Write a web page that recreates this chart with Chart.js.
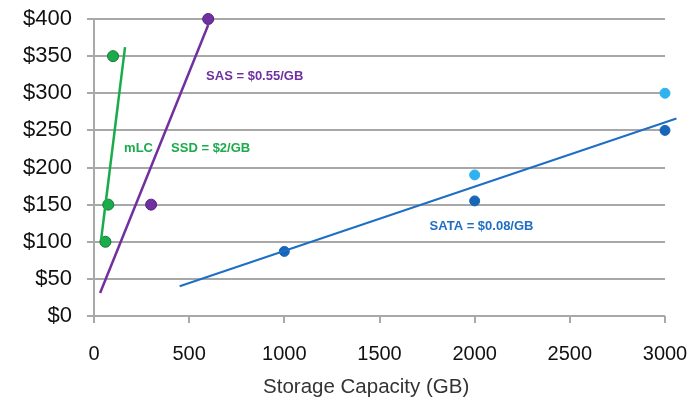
<!DOCTYPE html>
<html>
<head>
<meta charset="utf-8">
<script src="https://cdn.jsdelivr.net/npm/chart.js@4.4.1/dist/chart.umd.min.js"></script>
<style>
html,body{margin:0;padding:0;background:#fff;}
#wrap{width:694px;height:406px;position:relative;}
</style>
</head>
<body>
<div id="wrap"><canvas id="c" width="694" height="406"></canvas></div>
<script>
// Data (x = capacity in GB, y = price in $)
const xTicks = [0, 500, 1000, 1500, 2000, 2500, 3000];
const yTicks = [0, 50, 100, 150, 200, 250, 300, 350, 400];
const xTitle = 'Storage Capacity (GB)';

const ssdX = [60, 75, 100];
const ssdY = [100, 150, 350];
const ssdTrendX = [37, 163];
const ssdTrendY = [102, 362];

const sasX = [300, 600];
const sasY = [150, 400];
const sasTrendX = [32, 600];
const sasTrendY = [31, 392];

const sataX = [1000, 2000, 3000];
const sataY = [87, 155, 250];
const sataHiX = [2000, 3000];
const sataHiY = [190, 300];
const sataTrendX = [450, 3060];
const sataTrendY = [40, 266];

const labels = [
  {text: 'SAS = $0.55/GB', x: 589, y: 323, color: '#7030a0'},
  {text: 'mLC', x: 158, y: 226, color: '#1aab4a'},
  {text: 'SSD = $2/GB', x: 405, y: 226, color: '#1aab4a'},
  {text: 'SATA = $0.08/GB', x: 1763, y: 121, color: '#1f6ec5'}
];

const pts = (xs, ys) => xs.map((x, i) => ({x: x, y: ys[i]}));

const GREEN = '#1aab4a', PURPLE = '#7030a0', BLUE = '#1f6ec5', DBLUE = '#1766b8', LBLUE = '#2fb2ee';
const GRID = '#a8a8a8';
const FAM = '"Liberation Sans", Arial, sans-serif';

const annot = {
  id: 'annot',
  afterDatasetsDraw(chart) {
    const ctx = chart.ctx, xs = chart.scales.x, ys = chart.scales.y;
    ctx.save();
    ctx.font = 'bold 13px ' + FAM;
    ctx.textAlign = 'left';
    ctx.textBaseline = 'middle';
    labels.forEach(l => {
      ctx.fillStyle = l.color;
      ctx.fillText(l.text, xs.getPixelForValue(l.x), ys.getPixelForValue(l.y));
    });
    // axis title, centred slightly left of the plot centre as in the original
    ctx.font = '20.5px ' + FAM;
    ctx.fillStyle = '#333';
    ctx.textAlign = 'center';
    ctx.fillText(xTitle, xs.getPixelForValue(1430), xs.bottom - 19);
    ctx.restore();
  }
};

new Chart(document.getElementById('c'), {
  type: 'scatter',
  data: {
    datasets: [
      {data: pts(ssdTrendX, ssdTrendY), showLine: true, borderColor: GREEN, borderWidth: 2.5, pointRadius: 0},
      {data: pts(sasTrendX, sasTrendY), showLine: true, borderColor: PURPLE, borderWidth: 2.5, pointRadius: 0},
      {data: pts(sataTrendX, sataTrendY), showLine: true, borderColor: BLUE, borderWidth: 2, pointRadius: 0, clip: false},
      {data: pts(ssdX, ssdY), backgroundColor: GREEN, borderColor: '#0f7a32', borderWidth: 1, pointRadius: 5.5},
      {data: pts(sasX, sasY), backgroundColor: PURPLE, borderColor: '#56207e', borderWidth: 1, pointRadius: 5.5, clip: false},
      {data: pts(sataX, sataY), backgroundColor: DBLUE, borderColor: DBLUE, borderWidth: 1, pointRadius: 5, clip: false},
      {data: pts(sataHiX, sataHiY), backgroundColor: LBLUE, borderColor: LBLUE, borderWidth: 1, pointRadius: 5, clip: false}
    ]
  },
  options: {
    responsive: false,
    animation: false,
    layout: {padding: {top: 19, right: 29, left: 0, bottom: 0}},
    plugins: {legend: {display: false}, tooltip: {enabled: false}},
    scales: {
      x: {
        type: 'linear', min: 0, max: 3000,
        afterBuildTicks: s => { s.ticks = xTicks.map(v => ({value: v})); },
        afterFit: s => { s.height = 90; s.paddingLeft = 0; s.paddingRight = 0; },
        grid: {drawOnChartArea: false, drawTicks: true, tickLength: 7, color: GRID, lineWidth: 2},
        border: {display: false},
        ticks: {color: '#111', padding: 19, font: {size: 20, family: FAM}, maxRotation: 0, callback: v => String(v)},
        title: {display: false}
      },
      y: {
        type: 'linear', min: 0, max: 400,
        afterBuildTicks: s => { s.ticks = yTicks.map(v => ({value: v})); },
        afterFit: s => { s.width = 94; s.paddingTop = 0; s.paddingBottom = 0; },
        grid: {color: GRID, lineWidth: 2, tickLength: 7},
        border: {display: true, color: GRID, width: 2},
        ticks: {color: '#111', padding: 15, font: {size: 22, family: FAM}, callback: v => '$' + v}
      }
    }
  },
  plugins: [annot]
});
</script>
</body>
</html>
